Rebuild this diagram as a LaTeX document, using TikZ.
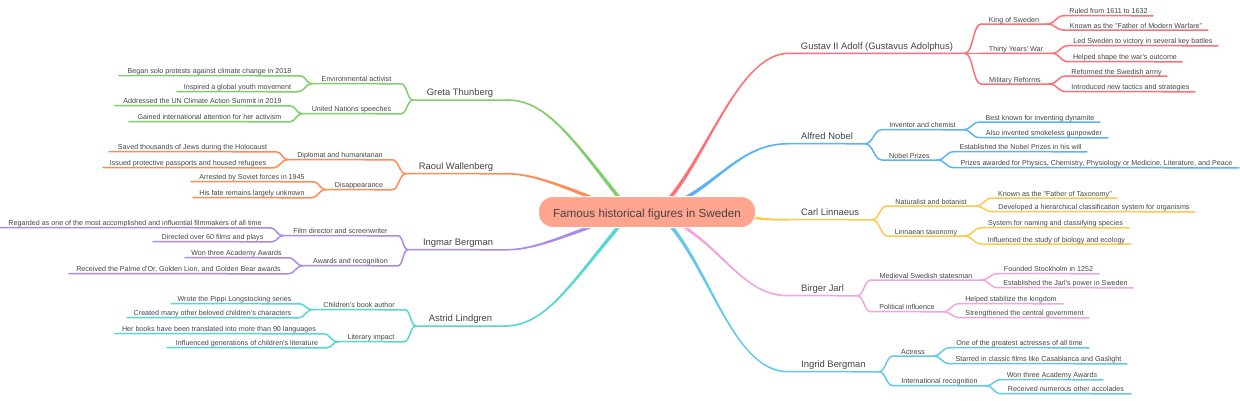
\documentclass[tikz,border=0pt]{standalone}
\usepackage{fontspec}
\newfontfamily\mapfont{Liberation Sans}
\usetikzlibrary{calc,backgrounds}
\definecolor{cGustav}{HTML}{FF7076}
\definecolor{cNobel}{HTML}{5BB5F5}
\definecolor{cCarl}{HTML}{FFC84F}
\definecolor{cBirger}{HTML}{F0A5E0}
\definecolor{cIngrid}{HTML}{66C8E8}
\definecolor{cAstrid}{HTML}{55D8D5}
\definecolor{cIngmar}{HTML}{AB8BE8}
\definecolor{cRaoul}{HTML}{FF8B55}
\definecolor{cGreta}{HTML}{80CF6C}
\definecolor{cRoot}{HTML}{FFA58F}
\definecolor{cText}{HTML}{444444}
\tikzset{
  mapnode/.style={anchor=south west,inner sep=0pt,outer sep=0pt,align=center,text=cText,font=\mapfont},
  topnode/.style={mapnode,font=\mapfont\fontsize{9.4}{12}\selectfont,text depth=4.3pt,text height=8pt},
  midnode/.style={mapnode,font=\mapfont\fontsize{7.15}{10}\selectfont,text depth=1.8pt,text height=6pt},
  leafnode/.style={midnode},
  wire/.style={line width=1.5pt,line cap=round},
  toproot/.style={rounded corners=14pt,fill=cRoot,draw=white,line width=1pt,text=cText,
    minimum width=217pt,minimum height=31pt,inner sep=0pt,text height=13pt,text depth=2pt,font=\mapfont\fontsize{11.7}{14}\selectfont},
}
% name, style, colour, x0, x1, y, text
\newcommand{\mapnd}[7]{%
  \pgfmathsetmacro\ndw{#5-#4}%
  \node[#2,minimum width=\ndw pt] (#1) at (#4,#6) {#7};%
  \begin{scope}[on background layer]
    \draw[#3,wire] (#1.south west) -- ($(#1.south east)+(0,0.06)$);
  \end{scope}}
% right-going and left-going forks: parent, child, colour
\newcommand{\forkR}[3]{%
  \begin{scope}[on background layer]
    \draw[#3,wire] (#1.south east) .. controls ($(#1.south east)!.5!(#1.south east -| #2.south west)$) and ($(#2.south west)!.5!(#2.south west -| #1.south east)$) .. (#2.south west);
  \end{scope}}
\newcommand{\forkL}[3]{%
  \begin{scope}[on background layer]
    \draw[#3,wire] (#1.south west) .. controls ($(#1.south west)!.5!(#1.south west -| #2.south east)$) and ($(#2.south east)!.5!(#2.south east -| #1.south west)$) .. (#2.south east);
  \end{scope}}
% tapered branch: colour, sx, sy, c1x, c1y, c2x, c2y, target, half width
\newcommand{\taper}[9]{%
  \pgfmathsetmacro\tpA{atan2(#5-#3,#4-#2)}%
  \pgfmathsetmacro\tpX{-sin(\tpA)*#9}%
  \pgfmathsetmacro\tpY{cos(\tpA)*#9}%
  \pgfmathsetmacro\tpE{(cos(\tpA)>0?0.8:-0.8)}%
  \begin{scope}[on background layer]
    \fill[#1] (#2+\tpX,#3+\tpY)
      .. controls (#4+0.7*\tpX,#5+0.7*\tpY) and (#6,#7+1.1*\tpE) .. ($(#8)+(0,\tpE)$)
      -- ($(#8)-(0,\tpE)$)
      .. controls (#6,#7-1.1*\tpE) and (#4-0.7*\tpX,#5-0.7*\tpY) .. (#2-\tpX,#3-\tpY) -- cycle;
  \end{scope}}
\begin{document}
\begin{tikzpicture}[x=1pt,y=-1pt]
\useasboundingbox (0,0) rectangle (1240,400);
\begin{scope}[on background layer]
\fill[white] (0,0) rectangle (1240,400);
\end{scope}
\node[toproot] (root) at (647,212) {Famous historical figures in Sweden};

% Gustav
\mapnd{gustav}{topnode}{cGustav}{789}{965}{53.3}{Gustav II Adolf (Gustavus Adolphus)}
\mapnd{king}{midnode}{cGustav}{981}{1047}{24}{King of Sweden}
\mapnd{thirty}{midnode}{cGustav}{980}{1052}{53.3}{Thirty Years' War}
\mapnd{military}{midnode}{cGustav}{981}{1049}{84}{Military Reforms}
\mapnd{ruled}{leafnode}{cGustav}{1064}{1153}{15.7}{Ruled from 1611 to 1632}
\mapnd{known}{leafnode}{cGustav}{1064}{1208}{30}{Known as the "Father of Modern Warfare"}
\mapnd{led}{leafnode}{cGustav}{1068}{1218}{45.7}{Led Sweden to victory in several key battles}
\mapnd{shaped}{leafnode}{cGustav}{1068}{1182}{61.7}{Helped shape the war's outcome}
\mapnd{reformed}{leafnode}{cGustav}{1066}{1167}{76}{Reformed the Swedish army}
\mapnd{tactics}{leafnode}{cGustav}{1066}{1195}{91.7}{Introduced new tactics and strategies}
\forkR{gustav}{king}{cGustav}\forkR{gustav}{thirty}{cGustav}\forkR{gustav}{military}{cGustav}
\forkR{king}{ruled}{cGustav}\forkR{king}{known}{cGustav}
\forkR{thirty}{led}{cGustav}\forkR{thirty}{shaped}{cGustav}
\forkR{military}{reformed}{cGustav}\forkR{military}{tactics}{cGustav}

% Nobel
\mapnd{alfred}{topnode}{cNobel}{789}{865}{143.7}{Alfred Nobel}
\mapnd{inventor}{midnode}{cNobel}{882}{963}{129.7}{Inventor and chemist}
\mapnd{prizes}{midnode}{cNobel}{882}{937}{160}{Nobel Prizes}
\mapnd{dynamite}{leafnode}{cNobel}{980}{1100}{122}{Best known for inventing dynamite}
\mapnd{gunpowder}{leafnode}{cNobel}{980}{1108}{137.7}{Also invented smokeless gunpowder}
\mapnd{will}{leafnode}{cNobel}{954}{1087}{151.7}{Established the Nobel Prizes in his will}
\mapnd{awarded}{leafnode}{cNobel}{954}{1239}{167.7}{Prizes awarded for Physics, Chemistry, Physiology or Medicine, Literature, and Peace}
\forkR{alfred}{inventor}{cNobel}\forkR{alfred}{prizes}{cNobel}
\forkR{inventor}{dynamite}{cNobel}\forkR{inventor}{gunpowder}{cNobel}
\forkR{prizes}{will}{cNobel}\forkR{prizes}{awarded}{cNobel}

% Linnaeus
\mapnd{carl}{topnode}{cCarl}{788}{872}{219.7}{Carl Linnaeus}
\mapnd{naturalist}{midnode}{cCarl}{887}{975}{206}{Naturalist and botanist}
\mapnd{linnaean}{midnode}{cCarl}{888}{964}{236}{Linnaean taxonomy}
\mapnd{taxonomy}{leafnode}{cCarl}{993}{1117}{198}{Known as the "Father of Taxonomy"}
\mapnd{hierarchy}{leafnode}{cCarl}{993}{1195}{211.7}{Developed a hierarchical classification system for organisms}
\mapnd{naming}{leafnode}{cCarl}{982}{1129}{227.7}{System for naming and classifying species}
\mapnd{biology}{leafnode}{cCarl}{982}{1131}{244}{Influenced the study of biology and ecology}
\forkR{carl}{naturalist}{cCarl}\forkR{carl}{linnaean}{cCarl}
\forkR{naturalist}{taxonomy}{cCarl}\forkR{naturalist}{hierarchy}{cCarl}
\forkR{linnaean}{naming}{cCarl}\forkR{linnaean}{biology}{cCarl}

% Birger
\mapnd{birger}{topnode}{cBirger}{788}{857}{295.7}{Birger Jarl}
\mapnd{medieval}{midnode}{cBirger}{871}{981}{280}{Medieval Swedish statesman}
\mapnd{political}{midnode}{cBirger}{871}{943}{311.7}{Political influence}
\mapnd{stockholm}{leafnode}{cBirger}{998}{1099}{273.7}{Founded Stockholm in 1252}
\mapnd{jarlpower}{leafnode}{cBirger}{998}{1133}{287.7}{Established the Jarl's power in Sweden}
\mapnd{kingdom}{leafnode}{cBirger}{959}{1063}{303.7}{Helped stabilize the kingdom}
\mapnd{central}{leafnode}{cBirger}{960}{1089}{317.7}{Strengthened the central government}
\forkR{birger}{medieval}{cBirger}\forkR{birger}{political}{cBirger}
\forkR{medieval}{stockholm}{cBirger}\forkR{medieval}{jarlpower}{cBirger}
\forkR{political}{kingdom}{cBirger}\forkR{political}{central}{cBirger}

% Ingrid
\mapnd{ingrid}{topnode}{cIngrid}{788}{879}{371.7}{Ingrid Bergman}
\mapnd{actress}{midnode}{cIngrid}{893}{933}{356}{Actress}
\mapnd{intl}{midnode}{cIngrid}{893}{986}{385.7}{International recognition}
\mapnd{greatest}{leafnode}{cIngrid}{950}{1089}{347.7}{One of the greatest actresses of all time}
\mapnd{starred}{leafnode}{cIngrid}{950}{1127}{363.7}{Starred in classic films like Casablanca and Gaslight}
\mapnd{wonib}{leafnode}{cIngrid}{1001}{1103}{379.7}{Won three Academy Awards}
\mapnd{accolades}{leafnode}{cIngrid}{1001}{1131}{393.7}{Received numerous other accolades}
\forkR{ingrid}{actress}{cIngrid}\forkR{ingrid}{intl}{cIngrid}
\forkR{actress}{greatest}{cIngrid}\forkR{actress}{starred}{cIngrid}
\forkR{intl}{wonib}{cIngrid}\forkR{intl}{accolades}{cIngrid}

% Greta
\mapnd{greta}{topnode}{cGreta}{413}{507}{100}{Greta Thunberg}
\mapnd{env}{midnode}{cGreta}{312}{401}{83.7}{Environmental activist}
\mapnd{un}{midnode}{cGreta}{302}{401}{113.7}{United Nations speeches}
\mapnd{solo}{leafnode}{cGreta}{119}{300}{75.7}{Began solo protests against climate change in 2018}
\mapnd{youth}{leafnode}{cGreta}{177}{298}{91.7}{Inspired a global youth movement}
\mapnd{summit}{leafnode}{cGreta}{115}{290}{105.7}{Addressed the UN Climate Action Summit in 2019}
\mapnd{attention}{leafnode}{cGreta}{129}{290}{121.7}{Gained international attention for her activism}
\forkL{greta}{env}{cGreta}\forkL{greta}{un}{cGreta}
\forkL{env}{solo}{cGreta}\forkL{env}{youth}{cGreta}
\forkL{un}{summit}{cGreta}\forkL{un}{attention}{cGreta}

% Raoul
\mapnd{raoul}{topnode}{cRaoul}{406}{506}{173.7}{Raoul Wallenberg}
\mapnd{diplomat}{midnode}{cRaoul}{288}{392}{159.7}{Diplomat and humanitarian}
\mapnd{disappear}{midnode}{cRaoul}{326}{392}{189.7}{Disappearance}
\mapnd{saved}{leafnode}{cRaoul}{109}{276}{151.7}{Saved thousands of Jews during the Holocaust}
\mapnd{issued}{leafnode}{cRaoul}{103}{273}{167.7}{Issued protective passports and housed refugees}
\mapnd{arrested}{leafnode}{cRaoul}{191}{313}{181.7}{Arrested by Soviet forces in 1945}
\mapnd{fate}{leafnode}{cRaoul}{193}{311}{197.7}{His fate remains largely unknown}
\forkL{raoul}{diplomat}{cRaoul}\forkL{raoul}{disappear}{cRaoul}
\forkL{diplomat}{saved}{cRaoul}\forkL{diplomat}{issued}{cRaoul}
\forkL{disappear}{arrested}{cRaoul}\forkL{disappear}{fate}{cRaoul}

% Ingmar
\mapnd{ingmar}{topnode}{cIngmar}{408}{508}{249.7}{Ingmar Bergman}
\mapnd{film}{midnode}{cIngmar}{283}{398}{235.7}{Film director and screenwriter}
\mapnd{awards}{midnode}{cIngmar}{303}{398}{265.7}{Awards and recognition}
\mapnd{regarded}{leafnode}{cIngmar}{0}{270}{227.7}{Regarded as one of the most accomplished and influential filmmakers of all time}
\mapnd{directed}{leafnode}{cIngmar}{153}{272}{241.7}{Directed over 60 films and plays}
\mapnd{wonim}{leafnode}{cIngmar}{185}{288}{257.7}{Won three Academy Awards}
\mapnd{palme}{leafnode}{cIngmar}{69}{288}{273.7}{Received the Palme d'Or, Golden Lion, and Golden Bear awards}
\forkL{ingmar}{film}{cIngmar}\forkL{ingmar}{awards}{cIngmar}
\forkL{film}{regarded}{cIngmar}\forkL{film}{directed}{cIngmar}
\forkL{awards}{wonim}{cIngmar}\forkL{awards}{palme}{cIngmar}

% Astrid
\mapnd{astrid}{topnode}{cAstrid}{416}{505}{326}{Astrid Lindgren}
\mapnd{book}{midnode}{cAstrid}{313}{405}{309.7}{Children's book author}
\mapnd{literary}{midnode}{cAstrid}{338}{404}{341.7}{Literary impact}
\mapnd{pippi}{leafnode}{cAstrid}{171}{298}{303.7}{Wrote the Pippi Longstocking series}
\mapnd{beloved}{leafnode}{cAstrid}{127}{298}{317.7}{Created many other beloved children's characters}
\mapnd{translated}{leafnode}{cAstrid}{115}{323}{333.7}{Her books have been translated into more than 90 languages}
\mapnd{generations}{leafnode}{cAstrid}{167}{327}{347.7}{Influenced generations of children's literature}
\forkL{astrid}{book}{cAstrid}\forkL{astrid}{literary}{cAstrid}
\forkL{book}{pippi}{cAstrid}\forkL{book}{beloved}{cAstrid}
\forkL{literary}{translated}{cAstrid}\forkL{literary}{generations}{cAstrid}

% tapered main branches
\taper{cGustav}{669}{199}{710}{150}{740}{53.3}{gustav.south west}{1.9}
\taper{cNobel}{684}{199}{725}{175}{745}{143.7}{alfred.south west}{1.9}
\taper{cCarl}{750}{217}{765}{219.7}{775}{219.7}{carl.south west}{1.5}
\taper{cBirger}{681}{225}{725}{252}{745}{295.7}{birger.south west}{1.5}
\taper{cIngrid}{670}{225}{712}{275}{735}{371.7}{ingrid.south west}{1.8}
\taper{cGreta}{620}{199}{570}{135}{545}{100}{greta.south east}{1.8}
\taper{cRaoul}{595}{199}{555}{183}{530}{173.7}{raoul.south east}{1.8}
\taper{cIngmar}{595}{225}{555}{240}{530}{249.7}{ingmar.south east}{1.8}
\taper{cAstrid}{620}{225}{570}{285}{545}{326}{astrid.south east}{1.8}
\end{tikzpicture}
\end{document}
